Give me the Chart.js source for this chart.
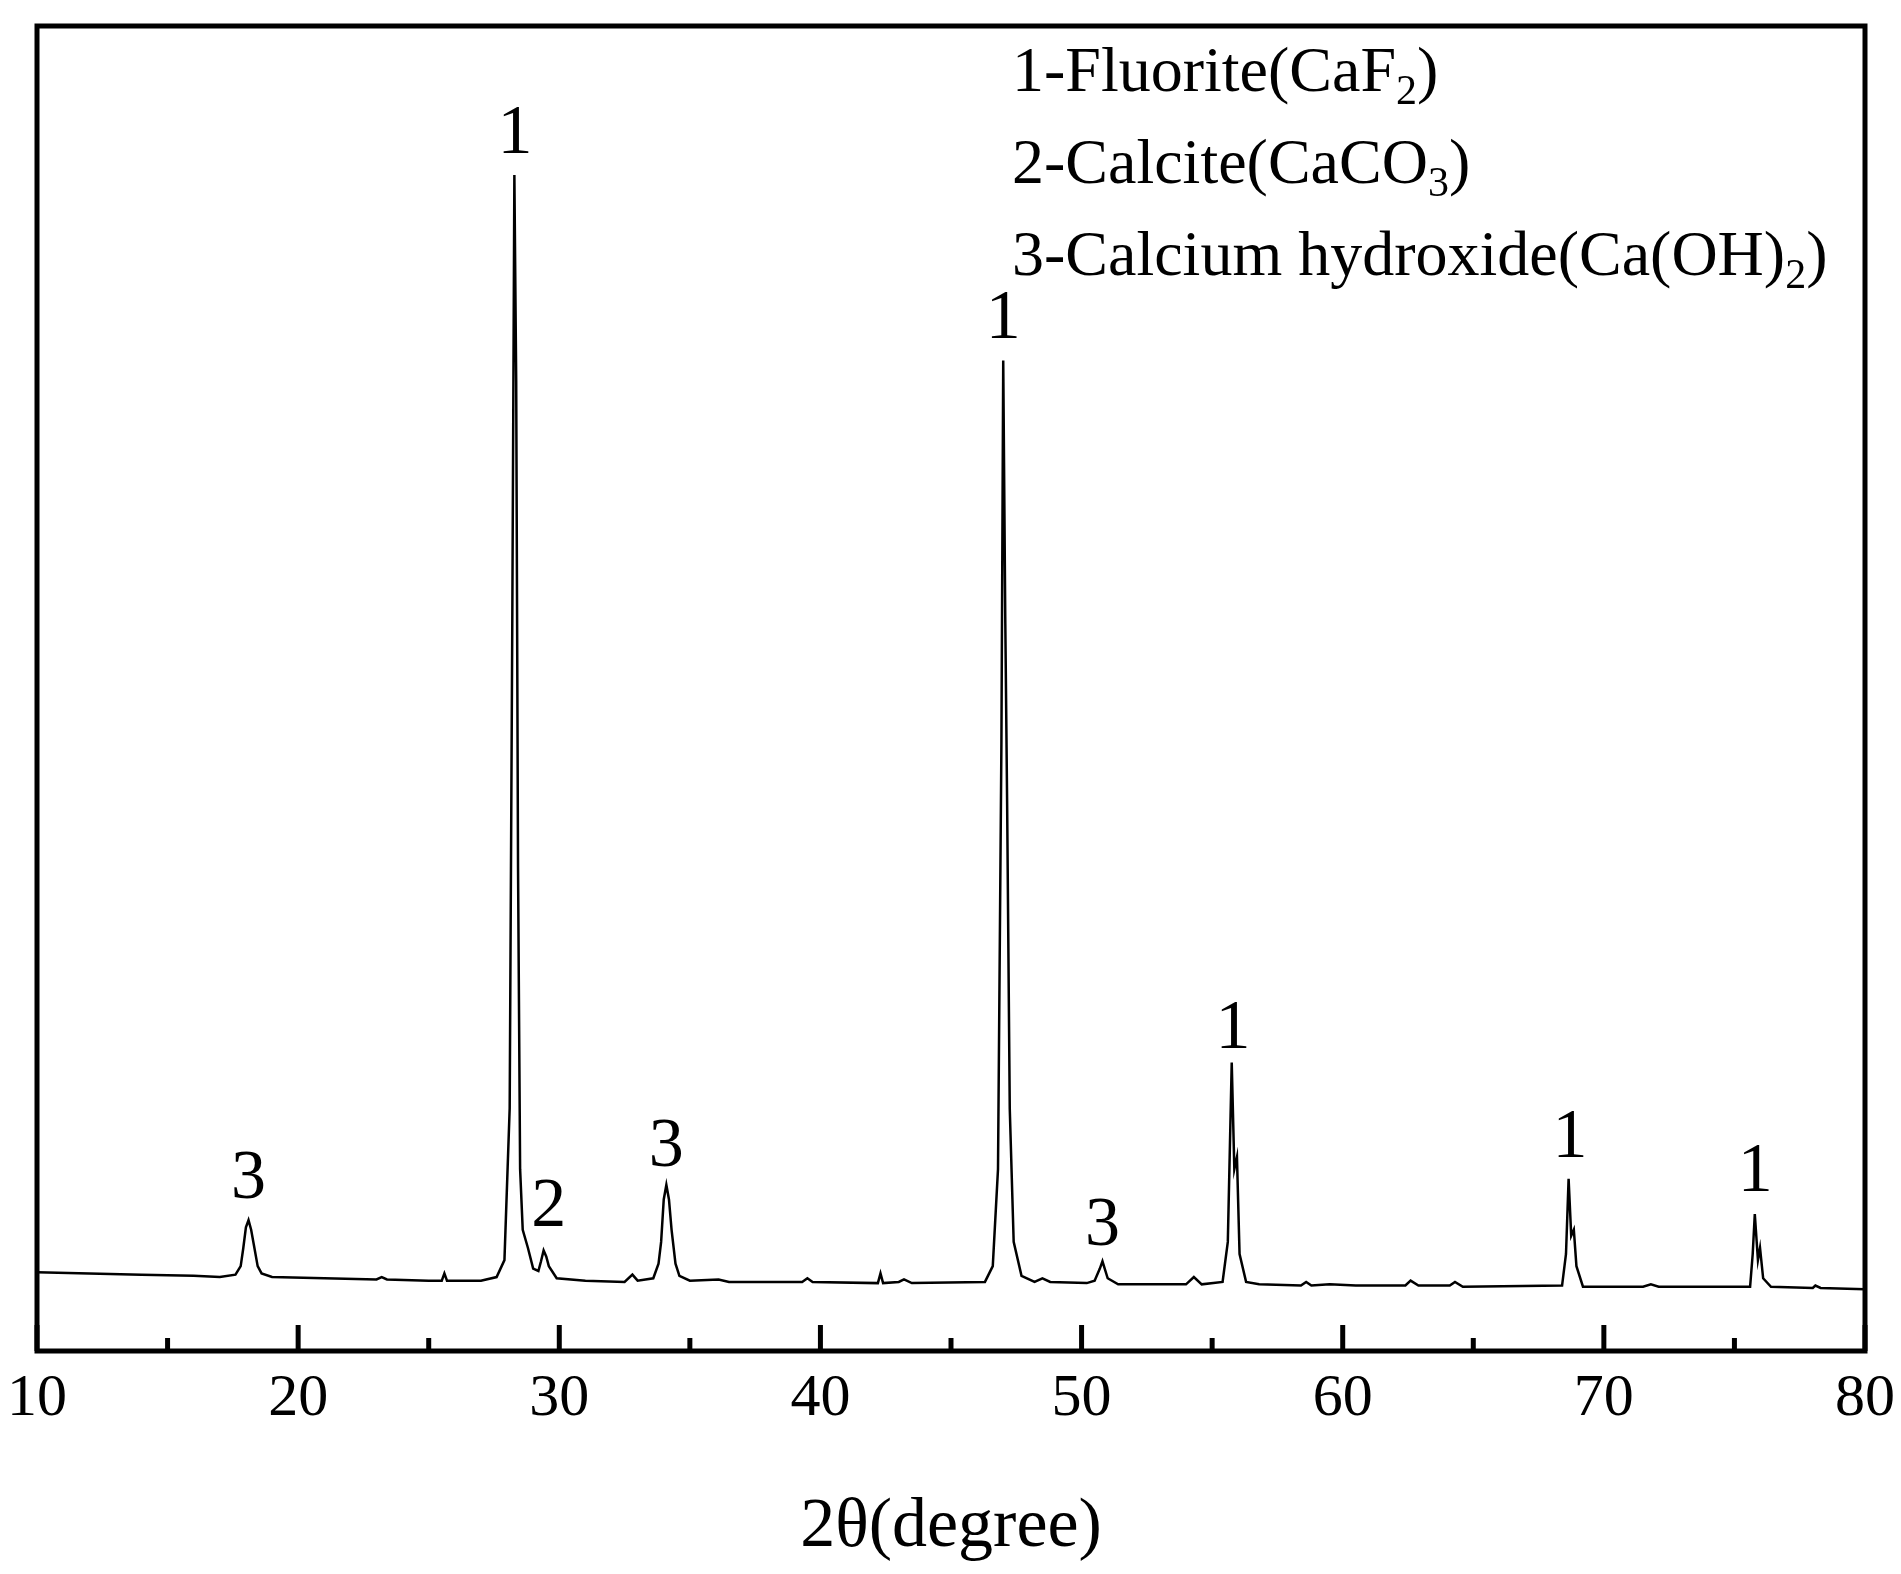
<!DOCTYPE html>
<html><head><meta charset="utf-8">
<script src="https://cdn.jsdelivr.net/npm/chart.js@4"></script>
<style>html,body{margin:0;padding:0;background:#fff}#w{width:1901px;height:1574px}</style>
</head><body><div id="w"><canvas id="c"></canvas></div>
<script>
const twoTheta = [10,12,14,16,17,17.6,17.8,17.9,18.0,18.1,18.2,18.3,18.45,18.6,19,21,23,23.2,23.4,25,25.5,25.6,25.7,27,27.6,27.9,28.1,28.2,28.28,28.35,28.42,28.5,28.6,28.8,29.0,29.2,29.3,29.4,29.5,29.6,29.9,31,32.5,32.8,33.0,33.6,33.8,33.9,34.0,34.1,34.2,34.3,34.45,34.6,35,36.1,36.5,39.3,39.5,39.7,42.2,42.3,42.4,43,43.2,43.5,46.3,46.6,46.8,46.93,47.0,47.08,47.15,47.25,47.4,47.7,48.2,48.5,48.8,50.2,50.5,50.7,50.8,51.0,51.4,54.0,54.3,54.6,55.4,55.6,55.75,55.85,55.95,56.05,56.3,56.8,58.4,58.6,58.8,59.5,60.5,62.4,62.6,62.9,64.1,64.3,64.6,68.4,68.55,68.65,68.75,68.85,68.95,69.2,71.5,71.8,72.1,75.6,75.7,75.78,75.9,75.98,76.1,76.4,78,78.1,78.3,80];
const intensity = [65,64,63,62,61,63,70,85,102,108,100,88,70,64,61,60,59,61,59,58,58,64,58,58,61,75,200,600,970,800,400,150,100,85,68,66,74,83,78,70,60,58,57,63,58,60,72,90,125,137,125,100,72,62,58,59,57,57,60,57,56,64,56,57,59,56,57,70,150,500,817,600,450,200,90,62,57,60,57,56,58,68,74,60,55,55,61,55,57,90,238,150,160,80,57,55,54,57,54,55,54,54,58,54,54,57,53,54,80,142,95,100,70,53,53,55,53,53,80,113,75,85,60,53,52,54,52,51];
const peakLabels = ["3","1","2","3","1","3","1","1","1"];
const peakX = [18.1,28.3,29.6,34.1,47.0,50.8,55.8,68.7,75.8];
const peakY = [141,1003,118,168,851,103,265,175,147];
const xTicks = [10,20,30,40,50,60,70,80];
const legendLines = [["1-Fluorite(CaF","2",")"],["2-Calcite(CaCO","3",")"],["3-Calcium hydroxide(Ca(OH)","2",")"]];

const SERIF = '"Liberation Serif","Times New Roman",serif';
const deco = {
  id:'deco',
  afterDraw(ch){
    const c=ch.ctx, a=ch.chartArea, xs=ch.scales.x, ys=ch.scales.y;
    c.save();
    c.strokeStyle='#000'; c.lineWidth=5;
    c.strokeRect(a.left,a.top,a.right-a.left,a.bottom-a.top);
    for(let v=10; v<=80; v+=5){
      const px=xs.getPixelForValue(v);
      const len = v%10===0?26:13;
      c.beginPath(); c.moveTo(px,a.bottom); c.lineTo(px,a.bottom-len); c.stroke();
    }
    c.fillStyle='#000';
    c.font='70px '+SERIF; c.textAlign='center'; c.textBaseline='middle';
    peakLabels.forEach((t,i)=>c.fillText(t,xs.getPixelForValue(peakX[i]),ys.getPixelForValue(peakY[i])));
    c.textAlign='left'; c.textBaseline='alphabetic';
    let base=91;
    legendLines.forEach(l=>{
      let x=1012;
      c.font='64px '+SERIF; c.fillText(l[0],x,base); x+=c.measureText(l[0]).width;
      c.font='42px '+SERIF; c.fillText(l[1],x,base+13); x+=c.measureText(l[1]).width;
      c.font='64px '+SERIF; c.fillText(l[2],x,base);
      base+=92;
    });
    c.restore();
  }
};
new Chart(document.getElementById('c'),{
  type:'line',
  data:{datasets:[{data:twoTheta.map((x,i)=>({x,y:intensity[i]})),borderColor:'#000',borderWidth:2.5,pointRadius:0,tension:0,fill:false}]},
  options:{
    responsive:true,maintainAspectRatio:false,animation:false,
    layout:{padding:{left:37,right:36,top:26,bottom:0}},
    plugins:{legend:{display:false},tooltip:{enabled:false}},
    scales:{
      x:{type:'linear',min:10,max:80,border:{display:false},grid:{display:false},
        afterBuildTicks(s){s.ticks=xTicks.map(v=>({value:v}));},
        afterFit(s){s.height=223;},
        ticks:{color:'#000',font:{family:SERIF,size:60},padding:4,maxRotation:0},
        title:{display:true,text:'2θ(degree)',color:'#000',font:{family:SERIF,size:70},padding:{top:14}}},
      y:{display:false,min:0,max:1093}
    }
  },
  plugins:[deco]
});
</script></body></html>
